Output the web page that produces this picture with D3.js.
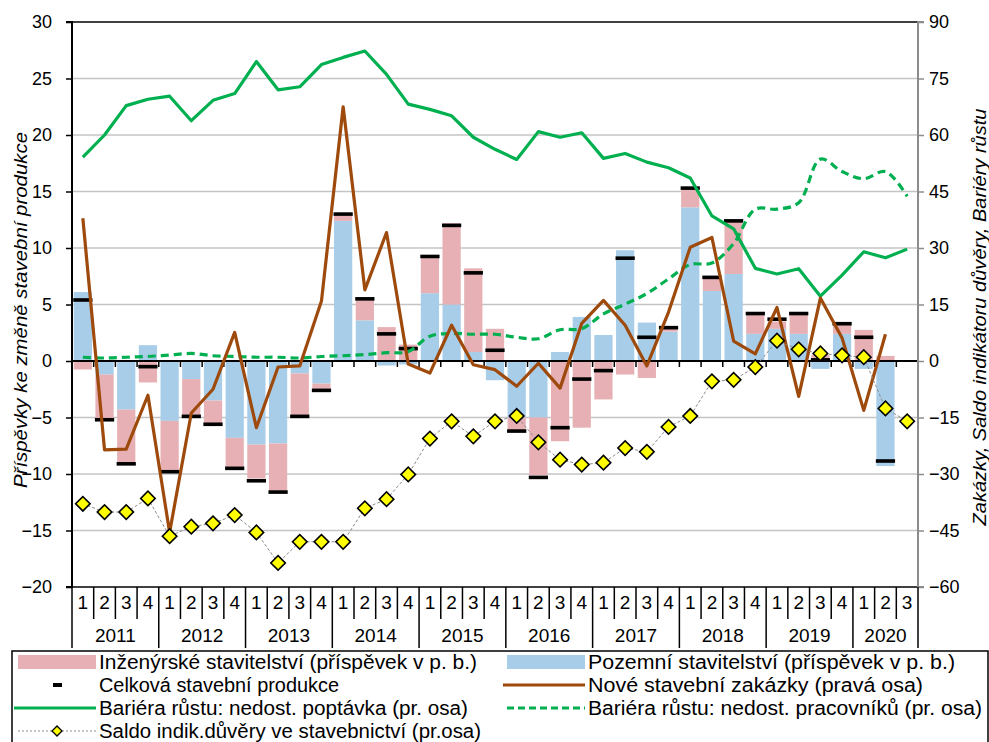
<!DOCTYPE html>
<html>
<head>
<meta charset="utf-8">
<script src="https://cdn.jsdelivr.net/npm/d3@7"></script>
<style>
  body { margin: 0; background: #fff; }
  svg { display: block; font-family: "Liberation Sans", Arial, sans-serif; }
  .narrow { font-family: "Liberation Sans Narrow", "Arial Narrow", "Liberation Sans", Arial, sans-serif; }
</style>
</head>
<body>
<div class="container"></div>
<script>
// quarter labels and years (2011 Q1 .. 2020 Q3)
const quarterLabels = ["1","2","3","4","1","2","3","4","1","2","3","4","1","2","3","4","1","2","3","4",
  "1","2","3","4","1","2","3","4","1","2","3","4","1","2","3","4","1","2","3"];
const years = ["2011","2012","2013","2014","2015","2016","2017","2018","2019","2020"];

// contributions, left axis (p. b.)
const pozemni = [6.1, -1.2, -4.3, 1.4, -5.3, -1.6, -3.5, -6.8, -7.4, -7.3, -1.1, -2.0, 12.4, 3.6, -0.4, -0.3,
  6.0, 5.0, 0.8, -1.7, -5.0, -5.0, 0.8, 3.9, 2.3, 9.8, 3.4, 2.6, 13.6, 6.2, 7.7, 2.4, 2.85, 2.4, -0.7, 2.4, -0.7, -9.3];
const inzenyrske = [-0.75, -3.9, -4.7, -1.9, -4.4, -3.2, -2.0, -2.7, -3.0, -4.3, -3.9, -0.55, 0.45, 1.8, 3.0, 1.45,
  3.1, 7.2, 7.4, 2.85, -1.1, -5.1, -7.1, -5.9, -3.4, -1.2, -1.5, 0.5, 1.8, 1.1, 4.7, 1.8, 0.65, 1.8, 0.55, 0.9, 2.75, 0.45];
const celkova = [5.4, -5.2, -9.1, -0.5, -9.8, -4.9, -5.6, -9.5, -10.6, -11.6, -4.9, -2.6, 13.0, 5.5, 2.4, 1.1,
  9.25, 12.0, 7.8, 0.95, -6.2, -10.3, -5.9, -1.6, -0.85, 9.1, 2.1, 2.95, 15.3, 7.4, 12.4, 4.2, 3.7, 4.2, 0.1, 3.3, 2.1, -8.85];

// right axis series
const zakazky = [37.9, -23.6, -23.4, -9.1, -45.5, -13.8, -7.5, 7.6, -17.7, -1.6, -1.3, 15.9, 67.5, 18.9, 34.1, -0.8,
  -3.2, 9.5, -1.0, -2.3, -6.7, -0.6, -7.2, 10.0, 16.1, 9.5, -1.3, 13.0, 30.2, 32.8, 5.3, 1.9, 14.2, -9.4, 16.7, 6.1, -13.1, 7.1];
const poptavka = [54.1, 60.0, 67.8, 69.5, 70.3, 63.8, 69.2, 71.0, 79.5, 72.0, 72.8, 78.7, 80.6, 82.3, 76.1, 68.2,
  66.8, 65.1, 59.4, 56.2, 53.5, 60.9, 59.4, 60.6, 53.8, 55.1, 52.8, 51.3, 48.6, 38.5, 35.1, 24.6, 23.1, 24.5, 17.2, 22.8, 29.0, 27.4, 29.7];
const pracovnici = [1.0, 0.8, 1.0, 1.2, 1.6, 2.0, 1.4, 1.2, 1.0, 1.0, 0.8, 1.2, 1.4, 1.7, 2.2, 2.5,
  6.6, 7.3, 7.1, 7.1, 6.3, 5.9, 8.3, 8.6, 12.5, 15.1, 17.9, 21.8, 25.6, 26.0, 31.2, 40.3, 40.3, 42.0, 53.6, 50.3, 48.4, 50.3, 43.7];
const saldo = [-37.9, -40.1, -40.1, -36.5, -46.5, -44.0, -43.1, -40.9, -45.5, -53.6, -48.0, -48.0, -48.0, -39.1, -36.7, -30.1,
  -20.6, -16.0, -20.0, -16.0, -14.6, -21.6, -26.2, -27.5, -27.0, -23.1, -24.1, -17.5, -14.6, -5.4, -5.0, -1.6, 5.4, 3.1, 2.0, 1.5, 1.0, -12.6, -16.0];

const leftTicks = [30, 25, 20, 15, 10, 5, 0, -5, -10, -15, -20];
const rightTicks = [90, 75, 60, 45, 30, 15, 0, -15, -30, -45, -60];

const W = 989, H = 742;
const plot = { left: 72, right: 918, top: 22, bottom: 587 };

const colPink = "#e6b0b4", colBlue = "#a8cde9", colBrown = "#9e4a0c", colGreen = "#00b050";

const svg = d3.select(".container").append("svg").attr("width", W).attr("height", H);

const idx = d3.range(quarterLabels.length);
const x = d3.scaleBand().domain(idx).range([plot.left, plot.right]).paddingInner(0).paddingOuter(0);
const y = d3.scaleLinear().domain([-20, 30]).range([plot.bottom, plot.top]);
const yR = d3.scaleLinear().domain([-60, 90]).range([plot.bottom, plot.top]);
const step = x.bandwidth();
const barW = step * 0.84;
const cx = (i) => x(i) + step / 2;

// gridlines
svg.append("g")
  .selectAll("line")
  .data(leftTicks.filter((t) => t !== 0 && t !== 30 && t !== -20))
  .enter()
  .append("line")
  .attr("x1", plot.left).attr("x2", plot.right)
  .attr("y1", (d) => y(d)).attr("y2", (d) => y(d))
  .attr("stroke", "#c4c4c4").attr("stroke-width", 1.3);

// stacked bars: blue next to zero, pink stacked beyond it
const stacks = pozemni.map((b, i) => {
  const p = inzenyrske[i];
  const bars = [{ v0: 0, v1: b, c: colBlue }];
  let base;
  if ((p >= 0) === (b >= 0)) base = b; else base = 0;
  bars.push({ v0: base, v1: base + p, c: colPink });
  return bars.map((r) => ({ ...r, i }));
});

svg.append("g")
  .selectAll("rect")
  .data(stacks.flat())
  .enter()
  .append("rect")
  .attr("x", (d) => cx(d.i) - barW / 2)
  .attr("width", barW)
  .attr("y", (d) => y(Math.max(d.v0, d.v1)))
  .attr("height", (d) => Math.abs(y(d.v0) - y(d.v1)))
  .attr("fill", (d) => d.c);

// total production markers
svg.append("g")
  .selectAll("rect")
  .data(celkova)
  .enter()
  .append("rect")
  .attr("x", (d, i) => cx(i) - barW / 2 - 0.5)
  .attr("width", barW + 1)
  .attr("y", (d) => y(d) - 1.8)
  .attr("height", 3.6)
  .attr("fill", "#000");

// zero axis with ticks at category boundaries
svg.append("line")
  .attr("x1", plot.left).attr("x2", plot.right)
  .attr("y1", y(0)).attr("y2", y(0))
  .attr("stroke", "#000").attr("stroke-width", 2);
svg.append("g")
  .selectAll("line")
  .data(d3.range(1, idx.length + 1))
  .enter()
  .append("line")
  .attr("x1", (d) => x(0) + d * step).attr("x2", (d) => x(0) + d * step)
  .attr("y1", y(0)).attr("y2", y(0) + 6)
  .attr("stroke", "#000").attr("stroke-width", 1.5);

// right-axis lines
const lineR = (arr, curve) => d3.line().x((d, i) => cx(i)).y((d) => yR(d)).curve(curve || d3.curveLinear)(arr);

svg.append("path").attr("d", lineR(pracovnici, d3.curveCatmullRom.alpha(0.5)))
  .attr("fill", "none").attr("stroke", colGreen).attr("stroke-width", 3.2).attr("stroke-dasharray", "8,5");
svg.append("path").attr("d", lineR(poptavka))
  .attr("fill", "none").attr("stroke", colGreen).attr("stroke-width", 3.2).attr("stroke-linejoin", "round");
svg.append("path").attr("d", lineR(zakazky))
  .attr("fill", "none").attr("stroke", colBrown).attr("stroke-width", 3.2).attr("stroke-linejoin", "round");
svg.append("path").attr("d", lineR(saldo))
  .attr("fill", "none").attr("stroke", "#8c8c8c").attr("stroke-width", 1).attr("stroke-dasharray", "3,2");

const diamond = d3.symbol().type(d3.symbolSquare).size(105);
svg.append("g")
  .selectAll("path")
  .data(saldo)
  .enter()
  .append("path")
  .attr("d", diamond)
  .attr("transform", (d, i) => `translate(${cx(i)},${yR(d)}) rotate(45)`)
  .attr("fill", "#ffff00").attr("stroke", "#000").attr("stroke-width", 1.6);

// frame
svg.append("line").attr("x1", plot.left).attr("x2", plot.right).attr("y1", plot.top).attr("y2", plot.top)
  .attr("stroke", "#000").attr("stroke-width", 1.5);
svg.append("line").attr("x1", plot.left).attr("x2", plot.right).attr("y1", plot.bottom).attr("y2", plot.bottom)
  .attr("stroke", "#000").attr("stroke-width", 1.5);

// left axis
const yAxis = d3.axisLeft(y).tickValues(leftTicks).tickSize(6).tickPadding(14);
svg.append("g").attr("transform", `translate(${plot.left},0)`).call(yAxis)
  .call((g) => g.select(".domain").attr("stroke-width", 2).attr("d", `M-6,${plot.top}H0V${plot.bottom}H-6`))
  .call((g) => g.selectAll(".tick line").attr("stroke-width", 1.5))
  .call((g) => g.selectAll("text").attr("font-size", 18).attr("fill", "#000")
    .attr("font-family", "Liberation Sans, Arial, sans-serif"));

// right axis
const yAxisR = d3.axisRight(yR).tickValues(rightTicks).tickSize(6).tickPadding(5);
svg.append("g").attr("transform", `translate(${plot.right},0)`).call(yAxisR)
  .call((g) => g.select(".domain").attr("stroke", "#8c8c8c").attr("stroke-width", 2).attr("d", `M6,${plot.top}H0V${plot.bottom}H6`))
  .call((g) => g.selectAll(".tick line").attr("stroke", "#8c8c8c").attr("stroke-width", 1.5))
  .call((g) => g.selectAll("text").attr("font-size", 18).attr("fill", "#000")
    .attr("font-family", "Liberation Sans, Arial, sans-serif"));

// axis titles
svg.append("text")
  .attr("transform", `translate(27,310) rotate(-90)`)
  .attr("text-anchor", "middle")
  .attr("font-style", "italic").attr("font-size", 18.5)
  .attr("textLength", 356).attr("lengthAdjust", "spacingAndGlyphs")
  .text("Příspěvky ke změně stavební produkce");
svg.append("text")
  .attr("transform", `translate(986,317) rotate(-90)`)
  .attr("text-anchor", "middle")
  .attr("font-style", "italic").attr("font-size", 18.5)
  .attr("textLength", 417).attr("lengthAdjust", "spacingAndGlyphs")
  .text("Zakázky, Saldo indikátoru důvěry, Bariéry růstu");

// category axis: quarters
const xAxis = d3.axisBottom(x).tickSize(0).tickPadding(9).tickFormat((i) => quarterLabels[i]);
svg.append("g").attr("transform", `translate(0,${plot.bottom})`).call(xAxis)
  .call((g) => g.select(".domain").remove())
  .call((g) => g.selectAll("text").attr("class", "narrow").attr("font-size", 19).attr("fill", "#000"));

svg.append("g")
  .selectAll("line")
  .data(d3.range(0, idx.length + 1))
  .enter()
  .append("line")
  .attr("x1", (d) => x(0) + d * step).attr("x2", (d) => x(0) + d * step)
  .attr("y1", plot.bottom)
  .attr("y2", (d) => (d % 4 === 0 || d === idx.length ? 648 : 619))
  .attr("stroke", "#000").attr("stroke-width", 1.5);

// years
svg.append("g")
  .selectAll("text")
  .data(years)
  .enter()
  .append("text")
  .attr("class", "narrow")
  .attr("x", (d, j) => {
    const first = j * 4, last = Math.min(j * 4 + 3, idx.length - 1);
    return (x(first) + x(last) + step) / 2;
  })
  .attr("y", 642)
  .attr("text-anchor", "middle")
  .attr("font-size", 19)
  .text((d) => d);

// legend
const legend = svg.append("g");
legend.append("rect").attr("x", 12).attr("y", 651).attr("width", 976).attr("height", 100)
  .attr("fill", "#fff").attr("stroke", "#000").attr("stroke-width", 1.5);

const legendItems = [
  { label: "Inženýrské stavitelství  (příspěvek v p. b.)", kind: "rect", color: colPink, col: 0, row: 0, w: 378 },
  { label: "Pozemní stavitelství (příspěvek v p. b.)", kind: "rect", color: colBlue, col: 1, row: 0, w: 367 },
  { label: "Celková stavební produkce", kind: "dash", color: "#000", col: 0, row: 1, w: 240 },
  { label: "Nové stavební zakázky (pravá osa)", kind: "line", color: colBrown, col: 1, row: 1, w: 335 },
  { label: "Bariéra růstu: nedost. poptávka (pr. osa)", kind: "line", color: colGreen, col: 0, row: 2, w: 369 },
  { label: "Bariéra růstu: nedost. pracovníků (pr. osa)", kind: "dashed", color: colGreen, col: 1, row: 2, w: 394 },
  { label: "Saldo indik.důvěry ve stavebnictví (pr.osa)", kind: "saldo", color: "#8c8c8c", col: 0, row: 3, w: 382 },
];
const colX = [18, 507];
const rowY = [662, 685, 708, 731];

legendItems.forEach((it) => {
  const x0 = colX[it.col], yy = rowY[it.row];
  const g = legend.append("g");
  if (it.kind === "rect") {
    g.append("rect").attr("x", x0).attr("y", yy - 7).attr("width", 78).attr("height", 14).attr("fill", it.color);
  } else if (it.kind === "dash") {
    g.append("rect").attr("x", x0 + 35).attr("y", yy - 2).attr("width", 9).attr("height", 4).attr("fill", "#000");
  } else if (it.kind === "line") {
    g.append("line").attr("x1", x0 - 4).attr("x2", x0 + 78).attr("y1", yy).attr("y2", yy)
      .attr("stroke", it.color).attr("stroke-width", 3);
  } else if (it.kind === "dashed") {
    g.append("line").attr("x1", x0).attr("x2", x0 + 78).attr("y1", yy).attr("y2", yy)
      .attr("stroke", it.color).attr("stroke-width", 3).attr("stroke-dasharray", "7,4");
  } else {
    g.append("line").attr("x1", x0).attr("x2", x0 + 78).attr("y1", yy).attr("y2", yy)
      .attr("stroke", it.color).attr("stroke-width", 1).attr("stroke-dasharray", "2,2");
    g.append("path").attr("d", d3.symbol().type(d3.symbolSquare).size(50))
      .attr("transform", `translate(${x0 + 39},${yy}) rotate(45)`)
      .attr("fill", "#ffff00").attr("stroke", "#000").attr("stroke-width", 1.3);
  }
  g.append("text")
    .attr("class", "narrow")
    .attr("x", x0 + 81).attr("y", yy + 7)
    .attr("font-size", 19.5)
    .attr("textLength", it.w).attr("lengthAdjust", "spacingAndGlyphs")
    .text(it.label);
});
</script>
</body>
</html>
